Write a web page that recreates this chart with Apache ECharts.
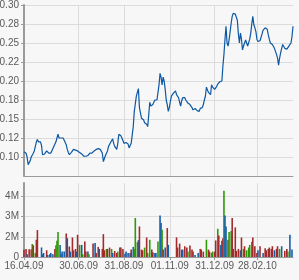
<!DOCTYPE html>
<html><head><meta charset="utf-8">
<script src="https://cdn.jsdelivr.net/npm/echarts@6/dist/echarts.min.js"></script>
<style>html,body{margin:0;padding:0;background:#f7f7f7}#c{width:299px;height:280px}</style>
</head><body><div id="c"></div>
<script>
// ---- data ----
const dateTickLabels = ["16.04.09","30.06.09","31.08.09","01.11.09","31.12.09","28.02.10"];
const priceTicks = [0.10,0.125,0.15,0.175,0.20,0.225,0.25,0.275,0.30];
const priceTickLabels = ["0.10","0.12","0.15","0.18","0.20","0.22","0.25","0.28","0.30"];
const volumeTicks = [0,1500000,3000000,4500000];
const volumeTickLabels = ["0","2M","3M","4M"];

// daily closes, one per trading day from 16.04.09
const closePrices = [
 0.107,0.107,
 0.105,0.100,0.090,0.092,0.095,
 0.100,0.101,0.105,0.108,0.110,
 0.120,0.123,0.120,0.118,0.120,
 0.115,0.103,0.105,0.104,0.106,
 0.108,0.106,0.105,0.104,0.105,
 0.108,0.110,0.114,0.116,0.120,
 0.125,0.130,0.125,0.125,0.125,
 0.125,0.125,0.122,0.120,0.116,
 0.110,0.106,0.103,0.105,0.106,
 0.108,0.110,0.111,0.109,0.108,
 0.108,0.107,0.106,0.105,0.104,
 0.102,0.101,0.100,0.101,0.100,
 0.102,0.104,0.105,0.106,0.105,
 0.107,0.108,0.109,0.110,0.111,
 0.111,0.112,0.110,0.108,0.105,
 0.094,0.098,0.102,0.105,0.108,
 0.114,0.116,0.119,0.121,0.124,
 0.118,0.114,0.112,0.110,0.118,
 0.130,0.132,0.128,0.125,0.123,
 0.118,0.116,0.119,0.120,0.117,
 0.112,0.115,0.118,0.120,0.140,
 0.160,0.170,0.180,0.185,0.190,
 0.165,0.158,0.151,0.150,0.149,
 0.145,0.146,0.143,0.140,0.155,
 0.172,0.167,0.165,0.169,0.170,
 0.175,0.176,0.175,0.185,0.195,
 0.210,0.205,0.195,0.205,0.200,
 0.189,0.175,0.169,0.160,0.165,
 0.173,0.180,0.182,0.184,0.186,
 0.187,0.182,0.180,0.178,0.172,
 0.167,0.174,0.178,0.180,0.178,
 0.175,0.173,0.171,0.170,0.169,
 0.167,0.165,0.162,0.163,0.164,
 0.162,0.161,0.160,0.160,0.164,
 0.162,0.165,0.169,0.175,0.180,
 0.192,0.188,0.185,0.183,0.182,
 0.195,0.192,0.190,0.189,0.190,
 0.193,0.196,0.198,0.199,0.200,
 0.200,0.220,0.235,0.255,0.272,
 0.250,0.246,0.254,0.265,0.276,
 0.285,0.289,0.287,0.288,0.289,
 0.280,0.262,0.250,0.263,0.255,
 0.241,0.246,0.250,0.254,0.250,
 0.246,0.248,0.255,0.263,0.275,
 0.285,0.274,0.270,0.265,0.255,
 0.252,0.254,0.253,0.252,0.262,
 0.267,0.268,0.270,0.269,0.268,
 0.261,0.255,0.250,0.249,0.248,
 0.246,0.243,0.239,0.235,0.230,
 0.221,0.230,0.237,0.243,0.248,
 0.246,0.243,0.241,0.242,0.243,
 0.246,0.248,0.250,0.258,0.272
];

// traded volume: trading-day index, millions of shares, direction (u up, d down, n unchanged)
const volumeDay = [
 0,2,3,5,7,8,9,11,12,13,
 17,18,19,22,23,25,26,28,30,31,
 32,33,35,36,37,39,41,42,44,45,
 47,48,50,51,52,54,56,57,59,60,
 62,63,67,69,70,72,73,76,77,78,
 80,81,83,85,86,88,90,91,93,94,
 96,98,99,101,103,104,106,107,108,110,
 111,112,114,115,117,119,120,122,124,125,
 127,128,130,132,133,134,135,137,139,140,
 148,149,151,153,154,156,158,159,161,163,
 164,166,169,171,172,174,177,179,180,182,
 183,185,186,188,189,191,192,193,194,195,
 196,198,199,201,202,203,205,206,208,210,
 211,213,214,216,218,219,221,222,224,226,
 227,229,232,234,235,237,238,240,241,243,
 245,246,248,250,253,255,256,258,260
];
const volumeMillions = [
 0.54,0.6,0.2,0.57,0.57,0.97,0.87,0.3,1.28,2.0,
 0.71,0.2,0.3,0.5,0.15,0.2,0.3,0.2,0.6,0.87,
 1.2,1.85,0.9,0.2,0.4,0.4,1.75,1.4,0.78,0.4,
 1.45,0.5,0.6,0.4,1.65,0.9,0.9,0.2,1.16,0.4,
 0.4,0.2,1.0,1.04,0.3,0.75,0.6,0.6,1.7,0.5,
 0.6,0.6,0.7,0.6,0.3,0.45,0.3,0.4,0.7,0.7,
 0.6,0.25,0.4,0.3,0.3,0.55,0.75,0.6,2.9,1.1,
 1.25,2.27,0.55,0.5,0.7,1.45,0.3,1.28,0.55,0.35,
 0.3,0.3,1.16,3.09,2.52,2.03,0.55,0.7,2.15,0.9,
 1.46,0.7,1.0,0.55,0.55,0.8,0.7,0.4,0.85,0.55,
 0.4,0.15,0.3,0.6,0.55,0.4,1.28,0.55,0.4,0.3,
 0.4,0.4,1.23,2.1,1.6,0.9,1.2,1.4,4.92,3.09,
 2.27,1.28,1.85,1.93,2.9,0.6,2.2,0.45,0.6,0.5,
 1.45,0.6,0.8,0.5,0.7,0.9,1.13,1.45,0.8,0.3,
 0.5,0.8,0.3,0.65,0.5,0.6,0.7,0.6,0.8,0.5,
 0.6,0.8,0.6,0.8,0.45,0.6,0.4,1.65,0.55
];
const volumeDirection =
 "ddnddududd nnndnnnndu uunnnndndn dddndunudd nudnddnddd uddunddund dnnnndnuuu nddduduudd " +
 "nnunnudndn dddnnddudd dnnddduddu uddudnndun nduudddddn duduuuuddd ndnddddddn ddunddunn";

// ---- build ----
const DAY = 86400000;
function parseDate(s){ const p = s.split('.').map(Number); return Date.UTC(2000 + p[2], p[1] - 1, p[0]); }
const startTime = parseDate(dateTickLabels[0]);
function tradingIndex(t){
  let n = 0;
  for (let x = startTime; x < t; x += DAY){ const wd = new Date(x).getUTCDay(); if (wd !== 0 && wd !== 6) n++; }
  const wd = new Date(t).getUTCDay();
  return (wd === 0 || wd === 6) ? n - 0.5 : n;
}
const dateTickPos = dateTickLabels.map(s => tradingIndex(parseDate(s)));
const lastIndex = closePrices.length - 1;
function lookup(vals, labels){ return v => { const k = vals.findIndex(p => Math.abs(p - v) < 1e-6 * Math.max(1, Math.abs(p))); return k >= 0 ? labels[k] : ''; }; }

const dirs = volumeDirection.replace(/\s+/g, '');
const dirColor = { u: '#2f9a08', d: '#a32b2b', n: '#1660aa' };
const volumeData = volumeDay.map((d, i) => ({ value: [d, volumeMillions[i] * 1e6], itemStyle: { color: dirColor[dirs[i]] } }));
const priceData = closePrices.map((v, i) => [i, v]);

const textStyle = { fontFamily: "'Liberation Sans',Arial,sans-serif", fontSize: 10, color: '#5a5a5a' };
const axisLineStyle = { color: '#9a9a9a', width: 1 };
const gridLineStyle = { color: '#dcdcdc', width: 1 };

const chart = echarts.init(document.getElementById('c'));
chart.setOption({
  animation: false,
  backgroundColor: '#f7f7f7',
  grid: [
    { left: 24, top: 5, width: 269, height: 171, outerBoundsMode: 'none' },
    { left: 24, top: 183, width: 269, height: 74, outerBoundsMode: 'none' }
  ],
  xAxis: [
    { gridIndex: 0, type: 'value', min: 0, max: lastIndex,
      axisLine: { show: true, onZero: false, lineStyle: axisLineStyle },
      axisTick: { show: false, customValues: dateTickPos },
      axisLabel: { show: false, customValues: dateTickPos },
      splitLine: { show: true, lineStyle: gridLineStyle } },
    { gridIndex: 1, type: 'value', min: 0, max: lastIndex,
      axisLine: { show: true, onZero: false, lineStyle: axisLineStyle },
      axisTick: { show: true, length: 3, lineStyle: axisLineStyle, customValues: dateTickPos },
      axisLabel: { show: true, margin: 4, customValues: dateTickPos, formatter: lookup(dateTickPos, dateTickLabels), ...textStyle },
      splitLine: { show: true, lineStyle: gridLineStyle } }
  ],
  yAxis: [
    { gridIndex: 0, type: 'value', min: 0.075, max: 0.30,
      axisLine: { show: true, lineStyle: { color: '#9a9a9a', width: 2 } },
      axisTick: { show: true, length: 3, lineStyle: axisLineStyle, customValues: priceTicks },
      axisLabel: { show: true, margin: 5, customValues: priceTicks, formatter: lookup(priceTicks, priceTickLabels), ...textStyle },
      splitLine: { show: true, lineStyle: gridLineStyle } },
    { gridIndex: 1, type: 'value', min: 0, max: 5500000,
      axisLine: { show: true, lineStyle: { color: '#9a9a9a', width: 2 } },
      axisTick: { show: true, length: 3, lineStyle: axisLineStyle, customValues: volumeTicks },
      axisLabel: { show: true, margin: 5, customValues: volumeTicks, formatter: lookup(volumeTicks, volumeTickLabels), ...textStyle },
      splitLine: { show: true, lineStyle: gridLineStyle } }
  ],
  series: [
    { type: 'line', xAxisIndex: 0, yAxisIndex: 0, data: priceData, symbol: 'none',
      lineStyle: { color: '#0d58a3', width: 1.2 }, silent: true },
    { type: 'bar', xAxisIndex: 1, yAxisIndex: 1, data: volumeData, barWidth: 1.6, silent: true }
  ]
});
</script></body></html>
